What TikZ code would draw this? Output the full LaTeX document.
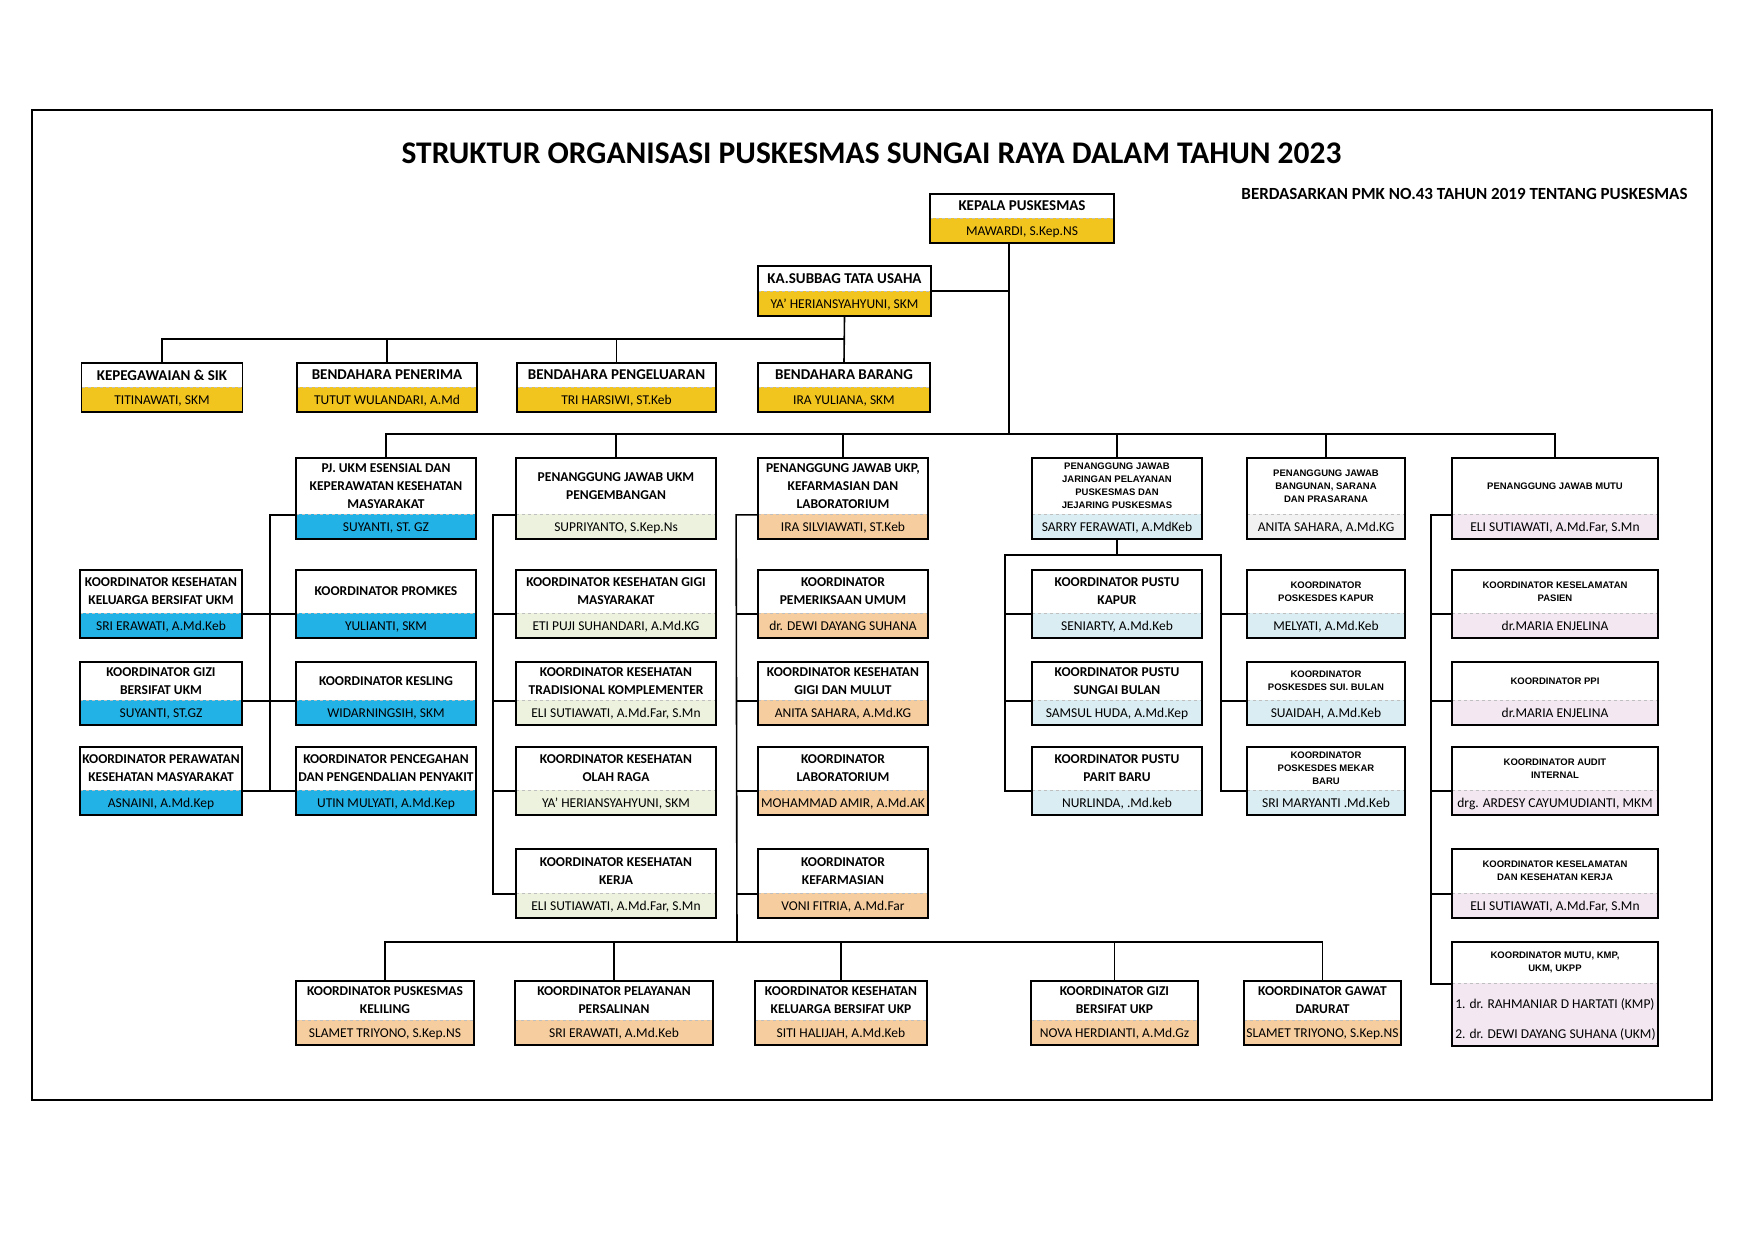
\documentclass[tikz,border=0pt]{standalone}
\usepackage{fontspec}
\setmainfont{Carlito}
\newfontfamily\arialfont{Liberation Sans}
\usepackage{tikz}
\usetikzlibrary{positioning}
\definecolor{tugold}{RGB}{242,196,30}
\definecolor{tutext}{RGB}{96,32,16}
\definecolor{ukmblue}{RGB}{34,178,230}
\definecolor{ukmtext}{RGB}{28,56,140}
\definecolor{pgngreen}{RGB}{236,242,222}
\definecolor{ukppeach}{RGB}{246,205,158}
\definecolor{ukptext}{RGB}{85,35,15}
\definecolor{jarsky}{RGB}{218,237,243}
\definecolor{sargray}{RGB}{242,242,242}
\definecolor{mutulilac}{RGB}{243,232,242}

\begin{document}
\begin{tikzpicture}[
    x=1pt, y=-1pt,
    unit/.style 2 args={draw, line width=1.8pt, fill=white, path picture={
        \fill[#1] ([yshift=#2]path picture bounding box.south west) rectangle (path picture bounding box.south east);
        \draw[black!25, dashed, line width=0.6pt] ([yshift=#2]path picture bounding box.south west) -- ([yshift=#2]path picture bounding box.south east);}},
    boxsize/.style 2 args={minimum width=#1, minimum height=#2},
    tubox/.style={unit={tugold}{25pt}, every label/.append style={text=tutext}},
    ukmbox/.style={unit={ukmblue}{25pt}, every label/.append style={text=ukmtext}},
    pgnbox/.style={unit={pgngreen}{25pt}},
    ukpbox/.style={unit={ukppeach}{25pt}, every label/.append style={text=ukptext}},
    jarbox/.style={unit={jarsky}{25pt}},
    sarbox/.style={unit={sargray}{25pt}},
    mutubox/.style={unit={mutulilac}{25pt}},
    head/.style={anchor=center, align=center, inner sep=0pt, text=black, font=\bfseries\fontsize{13.5}{18}\selectfont},
    bhead/.style={head, font=\bfseries\fontsize{15}{18}\selectfont},
    shead/.style={head, font=\arialfont\bfseries\fontsize{9.5}{13}\selectfont},
    who/.style={anchor=base, yshift=8pt, inner sep=0pt, font=\fontsize{13.5}{16}\selectfont},
    boxtitle/.style={label={[head, yshift=12.5pt]center:{#1}}},
    boxbig/.style={label={[bhead, yshift=12.5pt]center:{#1}}},
    boxsmall/.style={label={[shead, yshift=12.5pt]center:{#1}}},
    person/.style={label={[who]south:{#1}}},
    link/.style={line width=1.6pt}
]
    \useasboundingbox (0,0) rectangle (1754,1241);
    \draw[line width=1.5pt] (32,110) rectangle (1712,1100);

    % Heading
    \node[anchor=base, font=\bfseries\fontsize{31.5}{36}\selectfont] (judul) at (871.5,164) {STRUKTUR ORGANISASI PUSKESMAS SUNGAI RAYA DALAM TAHUN 2023};
    \node[anchor=base east, font=\bfseries\fontsize{17}{20}\selectfont] (dasar) at (1691,200) {BERDASARKAN PMK NO.43 TAHUN 2019 TENTANG PUSKESMAS};

    % Kepala and tata usaha
    \node[tubox, boxsize={184}{49}, boxbig={KEPALA PUSKESMAS}, person={MAWARDI, S.Kep.NS}] (kepala) at (1022,218.5) {};
    \node[tubox, boxsize={173}{50}, boxbig={KA.SUBBAG TATA USAHA}, person={YA' HERIANSYAHYUNI, SKM}] (subbag) at (844.5,291) {};
    \node[tubox, boxsize={161}{49}, boxbig={KEPEGAWAIAN \& SIK}, person={TITINAWATI, SKM}] (kepeg) at (162,387.5) {};
    \node[tubox, boxsize={180}{49}, boxbig={BENDAHARA PENERIMA}, person={TUTUT WULANDARI, A.Md}] (penerima) at (387,387.5) {};
    \node[tubox, boxsize={199}{49}, boxbig={BENDAHARA PENGELUARAN}, person={TRI HARSIWI, ST.Keb}] (pengeluaran) at (616.5,387.5) {};
    \node[tubox, boxsize={172}{49}, boxbig={BENDAHARA BARANG}, person={IRA YULIANA, SKM}] (barang) at (844,387.5) {};

    % UKM esensial
    \node[ukmbox, boxsize={180}{81}, boxtitle={PJ. UKM ESENSIAL DAN\\KEPERAWATAN KESEHATAN\\MASYARAKAT}, person={SUYANTI, ST. GZ}] (esensial) at (386,498.5) {};
    \node[ukmbox, boxsize={162}{68}, boxtitle={KOORDINATOR KESEHATAN\\KELUARGA BERSIFAT UKM}, person={SRI ERAWATI, A.Md.Keb}] (keluarga) at (161,604) {};
    \node[ukmbox, boxsize={180}{68}, boxtitle={KOORDINATOR PROMKES}, person={YULIANTI, SKM}] (promkes) at (386,604) {};
    \node[ukmbox, boxsize={162}{63}, boxtitle={KOORDINATOR GIZI\\BERSIFAT UKM}, person={SUYANTI, ST.GZ}] (gizi) at (161,693.5) {};
    \node[ukmbox, boxsize={180}{63}, boxtitle={KOORDINATOR KESLING}, person={WIDARNINGSIH, SKM}] (kesling) at (386,693.5) {};
    \node[ukmbox, boxsize={162}{68}, boxtitle={KOORDINATOR PERAWATAN\\KESEHATAN MASYARAKAT}, person={ASNAINI, A.Md.Kep}] (perawatan) at (161,781) {};
    \node[ukmbox, boxsize={180}{68}, boxtitle={KOORDINATOR PENCEGAHAN\\DAN PENGENDALIAN PENYAKIT}, person={UTIN MULYATI, A.Md.Kep}] (pencegahan) at (386,781) {};

    % UKM pengembangan
    \node[pgnbox, boxsize={200}{81}, boxtitle={PENANGGUNG JAWAB UKM\\PENGEMBANGAN}, person={SUPRIYANTO,  S.Kep.Ns}] (pengembangan) at (616,498.5) {};
    \node[pgnbox, boxsize={200}{68}, boxtitle={KOORDINATOR KESEHATAN GIGI\\MASYARAKAT}, person={ETI PUJI SUHANDARI, A.Md.KG}] (gigim) at (616,604) {};
    \node[pgnbox, boxsize={200}{63}, boxtitle={KOORDINATOR KESEHATAN\\TRADISIONAL KOMPLEMENTER}, person={ELI SUTIAWATI, A.Md.Far, S.Mn}] (tradisional) at (616,693.5) {};
    \node[pgnbox, boxsize={200}{68}, boxtitle={KOORDINATOR KESEHATAN\\OLAH RAGA}, person={YA' HERIANSYAHYUNI, SKM}] (olahraga) at (616,781) {};
    \node[pgnbox, boxsize={200}{69}, boxtitle={KOORDINATOR KESEHATAN\\KERJA}, person={ELI SUTIAWATI, A.Md.Far, S.Mn}] (kerja) at (616,883.5) {};

    % UKP, kefarmasian and laboratorium
    \node[ukpbox, boxsize={170}{81}, boxtitle={PENANGGUNG JAWAB UKP,\\KEFARMASIAN DAN\\LABORATORIUM}, person={IRA SILVIAWATI, ST.Keb}] (ukp) at (843,498.5) {};
    \node[ukpbox, boxsize={170}{68}, boxtitle={KOORDINATOR\\PEMERIKSAAN UMUM}, person={dr. DEWI DAYANG SUHANA}] (periksa) at (843,604) {};
    \node[ukpbox, boxsize={170}{63}, boxtitle={KOORDINATOR KESEHATAN\\GIGI DAN MULUT}, person={ANITA SAHARA, A.Md.KG}] (gigimulut) at (843,693.5) {};
    \node[ukpbox, boxsize={170}{68}, boxtitle={KOORDINATOR\\LABORATORIUM}, person={MOHAMMAD AMIR, A.Md.AK}] (lab) at (843,781) {};
    \node[ukpbox, boxsize={170}{69}, boxtitle={KOORDINATOR\\KEFARMASIAN}, person={VONI FITRIA, A.Md.Far}] (farmasi) at (843,883.5) {};
    \node[ukpbox, boxsize={178}{64}, boxtitle={KOORDINATOR PUSKESMAS\\KELILING}, person={SLAMET TRIYONO, S.Kep.NS}] (keliling) at (385,1013) {};
    \node[ukpbox, boxsize={198}{64}, boxtitle={KOORDINATOR PELAYANAN\\PERSALINAN}, person={SRI ERAWATI, A.Md.Keb}] (persalinan) at (614,1013) {};
    \node[ukpbox, boxsize={172}{64}, boxtitle={KOORDINATOR KESEHATAN\\KELUARGA BERSIFAT UKP}, person={SITI HALIJAH, A.Md.Keb}] (keluargaukp) at (841,1013) {};
    \node[ukpbox, boxsize={167}{64}, boxtitle={KOORDINATOR GIZI\\BERSIFAT UKP}, person={NOVA HERDIANTI, A.Md.Gz}] (giziukp) at (1114.5,1013) {};
    \node[ukpbox, boxsize={157}{64}, boxtitle={KOORDINATOR GAWAT\\DARURAT}, person={SLAMET TRIYONO, S.Kep.NS}] (gawat) at (1322.5,1013) {};

    % Jaringan pelayanan
    \node[jarbox, boxsize={170}{81}, boxsmall={PENANGGUNG JAWAB\\JARINGAN PELAYANAN\\PUSKESMAS DAN\\JEJARING PUSKESMAS}, person={SARRY FERAWATI, A.MdKeb}] (jaringan) at (1117,498.5) {};
    \node[jarbox, boxsize={170}{68}, boxtitle={KOORDINATOR PUSTU\\KAPUR}, person={SENIARTY, A.Md.Keb}] (pustu1) at (1117,604) {};
    \node[jarbox, boxsize={170}{63}, boxtitle={KOORDINATOR PUSTU\\SUNGAI BULAN}, person={SAMSUL HUDA, A.Md.Kep}] (pustu2) at (1117,693.5) {};
    \node[jarbox, boxsize={170}{68}, boxtitle={KOORDINATOR PUSTU\\PARIT BARU}, person={NURLINDA, .Md.keb}] (pustu3) at (1117,781) {};
    \node[jarbox, boxsize={158}{68}, boxsmall={KOORDINATOR\\POSKESDES KAPUR}, person={MELYATI, A.Md.Keb}] (posk1) at (1326,604) {};
    \node[jarbox, boxsize={158}{63}, boxsmall={KOORDINATOR\\POSKESDES SUI. BULAN}, person={SUAIDAH, A.Md.Keb}] (posk2) at (1326,693.5) {};
    \node[jarbox, boxsize={158}{68}, boxsmall={KOORDINATOR\\POSKESDES MEKAR\\BARU}, person={SRI MARYANTI .Md.Keb}] (posk3) at (1326,781) {};

    % Bangunan and mutu
    \node[sarbox, boxsize={158}{81}, boxsmall={PENANGGUNG JAWAB\\BANGUNAN, SARANA\\DAN PRASARANA}, person={ANITA SAHARA, A.Md.KG}] (bangunan) at (1326,498.5) {};
    \node[mutubox, boxsize={206}{81}, boxsmall={PENANGGUNG JAWAB  MUTU}, person={ELI SUTIAWATI, A.Md.Far, S.Mn}] (mutu) at (1555,498.5) {};
    \node[mutubox, boxsize={206}{68}, boxsmall={KOORDINATOR KESELAMATAN\\PASIEN}, person={dr.MARIA ENJELINA}] (pasien) at (1555,604) {};
    \node[mutubox, boxsize={206}{63}, boxsmall={KOORDINATOR PPI}, person={dr.MARIA ENJELINA}] (ppi) at (1555,693.5) {};
    \node[mutubox, boxsize={206}{68}, boxsmall={KOORDINATOR AUDIT\\INTERNAL}, person={drg. ARDESY CAYUMUDIANTI, MKM}] (audit) at (1555,781) {};
    \node[mutubox, boxsize={206}{69}, boxsmall={KOORDINATOR KESELAMATAN\\DAN KESEHATAN KERJA}, person={ELI SUTIAWATI, A.Md.Far, S.Mn}] (k3) at (1555,883.5) {};
    \node[unit={mutulilac}{63pt}, boxsize={206}{104},
        label={[shead, yshift=31.5pt]center:{KOORDINATOR MUTU, KMP,\\UKM, UKPP}},
        label={[who, anchor=base west, xshift=4pt, yshift=30pt]south west:{1. dr. RAHMANIAR D HARTATI (KMP)}},
        label={[who, anchor=base west, xshift=4pt]south west:{2. dr. DEWI DAYANG SUHANA (UKM)}}] (kmp) at (1555,994) {};

    % Lines of command
    \coordinate (stem) at ([xshift=-13pt]kepala.south);
    \coordinate (bus1) at (0,339);
    \coordinate (bus2) at (0,434);
    \coordinate (bus3) at (737,942);
    \coordinate (jarbus) at (1117,555);
    \draw[link] (subbag.east) -- (subbag.east -| stem);
    \draw[link] (subbag.south) |- (kepeg.north |- bus1) -- (kepeg.north);
    \draw[link] (subbag.south) |- (penerima.north |- bus1) -- (penerima.north);
    \draw[link] (subbag.south) |- (pengeluaran.north |- bus1) -- (pengeluaran.north);
    \draw[link] (subbag.south) -- (barang.north);
    \draw[link] (stem) |- (esensial.north |- bus2) -- (esensial.north);
    \draw[link] (stem) |- (pengembangan.north |- bus2) -- (pengembangan.north);
    \draw[link] (stem) |- (ukp.north |- bus2) -- (ukp.north);
    \draw[link] (stem) |- (jaringan.north |- bus2) -- (jaringan.north);
    \draw[link] (stem) |- (bangunan.north |- bus2) -- (bangunan.north);
    \draw[link] (stem) |- (mutu.north |- bus2) -- (mutu.north);

    % UKM esensial group
    \draw[link] ([yshift=25pt]esensial.south west) -- ++(-25,0) |- ([yshift=25pt]pencegahan.south west);
    \draw[link] ([yshift=25pt]keluarga.south east) -- ([yshift=25pt]promkes.south west);
    \draw[link] ([yshift=25pt]gizi.south east) -- ([yshift=25pt]kesling.south west);
    \draw[link] ([yshift=25pt]perawatan.south east) -- ([yshift=25pt]pencegahan.south west);

    % UKM pengembangan group
    \draw[link] ([yshift=25pt]pengembangan.south west) -- ++(-22,0) |- ([yshift=25pt]kerja.south west);
    \draw[link] ([yshift=25pt]gigim.south west) -- ++(-22,0);
    \draw[link] ([yshift=25pt]tradisional.south west) -- ++(-22,0);
    \draw[link] ([yshift=25pt]olahraga.south west) -- ++(-22,0);

    % UKP group
    \draw[link] ([yshift=25pt]ukp.south west) -- ++(-21,0) -- (bus3);
    \draw[link] ([yshift=25pt]periksa.south west) -- ++(-21,0);
    \draw[link] ([yshift=25pt]gigimulut.south west) -- ++(-21,0);
    \draw[link] ([yshift=25pt]lab.south west) -- ++(-21,0);
    \draw[link] ([yshift=25pt]farmasi.south west) -- ++(-21,0);
    \draw[link] (keliling.north) |- (bus3);
    \draw[link] (persalinan.north) |- (bus3);
    \draw[link] (keluargaukp.north) |- (bus3);
    \draw[link] (giziukp.north) |- (bus3);
    \draw[link] (gawat.north) |- (bus3);

    % Jaringan group
    \draw[link] (jaringan.south) -- (jarbus);
    \draw[link] ([yshift=25pt]pustu3.south west) -- ++(-26,0) |- (jarbus);
    \draw[link] ([yshift=25pt]pustu1.south west) -- ++(-26,0);
    \draw[link] ([yshift=25pt]pustu2.south west) -- ++(-26,0);
    \draw[link] ([yshift=25pt]posk3.south west) -- ++(-25,0) |- (jarbus);
    \draw[link] ([yshift=25pt]posk1.south west) -- ++(-25,0);
    \draw[link] ([yshift=25pt]posk2.south west) -- ++(-25,0);

    % Mutu group
    \draw[link] ([yshift=25pt]mutu.south west) -- ++(-20,0) |- ([yshift=63pt]kmp.south west);
    \draw[link] ([yshift=25pt]pasien.south west) -- ++(-20,0);
    \draw[link] ([yshift=25pt]ppi.south west) -- ++(-20,0);
    \draw[link] ([yshift=25pt]audit.south west) -- ++(-20,0);
    \draw[link] ([yshift=25pt]k3.south west) -- ++(-20,0);
\end{tikzpicture}
\end{document}
